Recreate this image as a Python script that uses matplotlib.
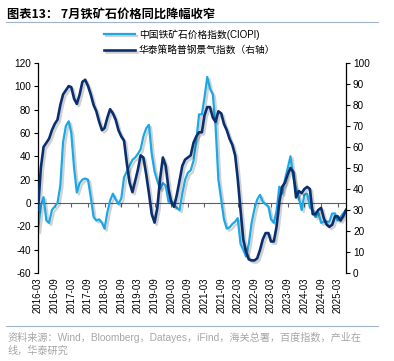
import matplotlib
matplotlib.use("Agg")
import matplotlib.pyplot as plt
import matplotlib.patheffects as pe
import numpy as np
import pandas as pd

plt.rcParams['font.family'] = ['Liberation Sans', 'Noto Sans CJK SC']
plt.rcParams['axes.unicode_minus'] = False

# monthly data, 2016-03 .. 2025-06
dates = pd.date_range('2016-03-01', periods=112, freq='MS')

ciopi_yoy = [
    -24, -3, 5, -15, -17, -6, -3, 0, 15, 52,
    66, 70, 60, 30, 9, 17, 20, 21, 20, 5,
    -12, -15, -14, -17, -22, -8, 2, 8, 3, -1,
    4, 22, 27, 32, 37, 39, 42, 46, 57, 64,
    67, 42, 27, 19, 12, 17, 15, 1, 2, -2,
    -4, -6, 8, 20, 26, 28, 36, 53, 76, 76,
    90, 108, 98, 93, 66, 20, 3, -14, -22, -21,
    -18, -16, -13, -35, -40, -46, -35, -17, -5, 3,
    7, 1, -1, -3, -14, -17, -7, 14, 8, 20,
    30, 40, 22, 12, 4, -6, 7, 8, -4, -6,
    -12, -8, -17, -16, -16, -16, -9, -9, -15, -12,
    -9, -6,
]

steel_index = [
    30, 50, 60, 62, 64, 68, 71, 73, 80, 85,
    87, 89, 88.5, 83, 80.5, 85, 91, 92, 89, 85,
    80, 77, 72, 68, 69, 74, 78, 76, 73, 68,
    65, 63, 52, 43, 38.5, 44, 49, 56, 55, 47,
    38, 28, 24, 31, 45, 55, 51, 40, 34, 31.5,
    37, 44, 51, 54, 55, 56, 62, 65, 67, 67,
    75, 79, 79, 74, 72, 77, 76, 71, 68, 64,
    61, 56, 45, 30, 16, 10, 6.5, 6, 6, 7,
    11, 16, 19, 19, 15, 15, 22, 34, 41, 43,
    47, 50, 48, 36, 39, 38, 40, 41, 40, 28,
    28, 30, 31, 26, 23, 22, 23, 27, 27, 25,
    27, 30,
]

tick_dates = pd.date_range('2016-03-01', '2025-03-01', freq='6MS')
tick_labels = [d.strftime('%Y-%m') for d in tick_dates]

light = '#1CA8E6'
dark = '#0A2F6E'
gray = '#A6A6A6'
rule = '#9DB4CC'

fig = plt.figure(figsize=(3.94, 3.61), dpi=100)
ax = fig.add_axes([38/394, 1-273/361, (346-38)/394, (273-63)/361])
ax2 = ax.twinx()

shadow = [pe.SimpleLineShadow(offset=(1.5, -1.5), shadow_color='k', alpha=0.18), pe.Normal()]
l1, = ax.plot(dates, ciopi_yoy, color=light, lw=1.6, label='中国铁矿石价格指数(CIOPI)',
              path_effects=shadow, solid_joinstyle='round')
l2, = ax2.plot(dates, steel_index, color=dark, lw=1.9, label='华泰策略普钢景气指数（右轴）',
               path_effects=shadow, solid_joinstyle='round')

ax.set_xlim(dates[0], dates[-1])
ax.set_ylim(-60, 120)
ax.set_yticks(np.arange(-60, 121, 20))
ax2.set_ylim(0, 100)
ax2.set_yticks(np.arange(0, 101, 10))

for a in (ax, ax2):
    a.spines['top'].set_visible(False)
    a.spines['bottom'].set_visible(False)
    a.patch.set_visible(False)
ax.spines['right'].set_visible(False)
ax2.spines['left'].set_visible(False)
ax.spines['left'].set_linewidth(0.9)
ax2.spines['right'].set_linewidth(0.9)

ax.set_xticks(tick_dates)
ax.set_xticklabels(tick_labels, rotation=90, fontsize=7)
ax.tick_params(axis='x', length=0, pad=3)
ax.tick_params(axis='y', direction='out', length=3, width=0.8, labelsize=7.2, pad=2)
ax2.tick_params(axis='y', direction='out', length=3, width=0.8, labelsize=7.2, pad=2)

# zero line with small ticks (axis crosses at 0)
ax.axhline(0, color='#606060', lw=0.8, zorder=1)
ax.plot(tick_dates, np.zeros(len(tick_dates)), ls='none', marker=3, ms=3,
        mew=0.8, color='#606060', zorder=1)

fig.legend(handles=[l1, l2], loc='upper left', bbox_to_anchor=(104/394, 1-29/361),
           frameon=False, fontsize=7, handlelength=3.2, handletextpad=0.4,
           labelspacing=0.55, borderpad=0, borderaxespad=0)

fig.text(7/394, 1-14/361, '图表13： 7月铁矿石价格同比降幅收窄', fontsize=8.8,
         fontweight='bold', va='center', ha='left',
         family=['Noto Sans CJK SC', 'DejaVu Sans'])
fig.add_artist(plt.Line2D([6/394, 378/394], [1-22/361, 1-22/361], color=rule, lw=0.8))
fig.add_artist(plt.Line2D([6/394, 378/394], [1-326/361, 1-326/361], color=rule, lw=0.8))
fig.text(7/394, 1-337/361, '资料来源：Wind，Bloomberg，Datayes，iFind，海关总署，百度指数，产业在',
         fontsize=7.3, color=gray, va='center', ha='left')
fig.text(7/394, 1-351/361, '线，华泰研究', fontsize=7.3, color=gray, va='center', ha='left')

fig.savefig('out.png', dpi=100)
